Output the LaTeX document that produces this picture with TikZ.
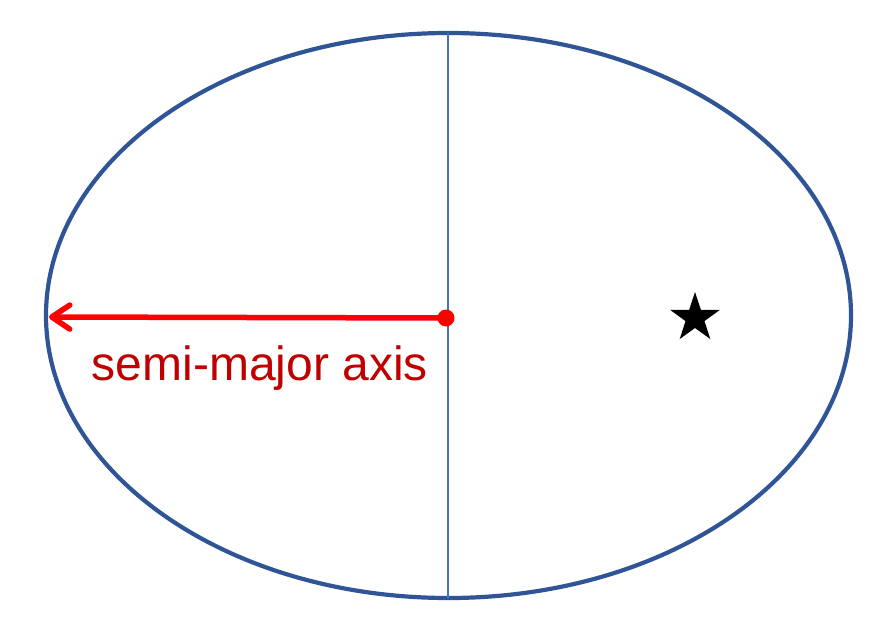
\documentclass[tikz,border=0pt]{standalone}
\usepackage{fontspec}
\setmainfont{Liberation Sans}
\usetikzlibrary{shapes.geometric,arrows.meta,positioning}
\definecolor{orbitblue}{HTML}{2F5597}
\definecolor{axisblue}{HTML}{4472C4}
\definecolor{labelred}{HTML}{C00000}

\begin{document}
\begin{tikzpicture}[
    x=1pt, y=-1pt,
    orbit/.style={draw=orbitblue, line width=4.2pt},
    minor/.style={draw=axisblue, line width=2pt},
    semiarrow/.style={-{Straight Barb[length=18pt, width=24pt, round]}, red, line width=5.5pt},
    centre/.style={circle, fill=red, inner sep=0pt, minimum size=17pt},
    sun/.style={star, star points=5, star point ratio=2.6, fill=black, inner sep=0pt, minimum size=52pt},
    lbl/.style={font=\fontsize{48}{50}\selectfont, text=labelred, inner sep=0pt},
]
\useasboundingbox (0,0) rectangle (890,636);

% Orbit
\draw[orbit] (448.5,315.5) ellipse [x radius=402.5, y radius=282.5];
\coordinate (top) at (448,33);
\coordinate (bottom) at (448,598);
\draw[minor] (top) -- (bottom);

% Nodes
\node[centre] (focus) at (446,318) {};
\coordinate (rim) at (49,317);
\node[sun] (sunstar) at (695,318) {};
\node[lbl, anchor=base] (label) at (260,380) {semi-major axis};

% Axis
\draw[semiarrow] (focus.center) -- (rim);

\end{tikzpicture}
\end{document}
